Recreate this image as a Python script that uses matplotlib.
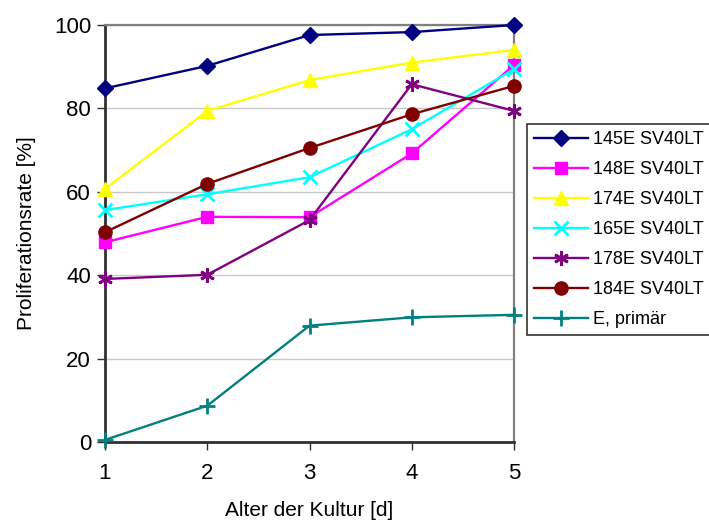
import matplotlib
matplotlib.use("Agg")
import matplotlib.pyplot as plt

plt.rcParams['font.family'] = ['Liberation Sans', 'DejaVu Sans']

days = [1, 2, 3, 4, 5]
series_names = ["145E SV40LT", "148E SV40LT", "174E SV40LT", "165E SV40LT",
                "178E SV40LT", "184E SV40LT", "E, primär"]
v145 = [84.8, 90.2, 97.6, 98.3, 100.0]
v148 = [47.9, 54.0, 53.9, 69.2, 90.4]
v174 = [60.7, 79.4, 86.8, 91.0, 94.0]
v165 = [55.6, 59.4, 63.5, 75.0, 89.4]
v178 = [39.1, 40.1, 53.2, 85.8, 79.4]
v184 = [50.3, 61.9, 70.5, 78.6, 85.4]
vprim = [0.5, 8.7, 27.9, 29.9, 30.5]
yticks = [0, 20, 40, 60, 80, 100]

series = [v145, v148, v174, v165, v178, v184, vprim]
colors = ["#000080", "#FF00FF", "#FFFF00", "#00FFFF", "#800080", "#800000", "#008080"]
markers = ["D", "s", "^", "x", (6, 2, 0), "o", "+"]
msizes = [8, 9, 9.5, 9.5, 10.5, 9.5, 11]

fig = plt.figure(figsize=(7.09, 5.2), dpi=100)
ax = fig.add_axes([105/709, (520-442)/520, (514-105)/709, (442-25)/520])

for name, vals, c, m, ms in zip(series_names, series, colors, markers, msizes):
    mew = 2 if m in ("x", "+") or isinstance(m, tuple) else 1
    ax.plot(days, vals, color=c, marker=m, markersize=ms, linewidth=1.7,
            markerfacecolor=c, markeredgecolor=c, markeredgewidth=mew,
            label=name, clip_on=False, zorder=3)

ax.set_xlim(1, 5)
ax.set_ylim(0, 100)
ax.set_xticks(days)
ax.set_yticks(yticks)
ax.yaxis.grid(True, color="#c8c8c8", linewidth=1)
ax.set_axisbelow(True)
for s in ["top", "right"]:
    ax.spines[s].set_color("#808080")
    ax.spines[s].set_linewidth(1.6)
for s in ["left", "bottom"]:
    ax.spines[s].set_color("#303030")
    ax.spines[s].set_linewidth(2)
ax.tick_params(axis="both", labelsize=16, direction="out", length=6, width=1, color="#303030")
ax.tick_params(axis="x", pad=9)
ax.tick_params(axis="y", pad=4)
ax.set_xlabel("Alter der Kultur [d]", fontsize=15, labelpad=12)
ax.set_ylabel("Proliferationsrate [%]", fontsize=15, labelpad=13)

leg = fig.legend(loc="upper left", bbox_to_anchor=(527/709, 1 - 124/520),
                 fontsize=13, frameon=True, fancybox=False, edgecolor="black",
                 borderpad=0.4, labelspacing=0.72, handlelength=3.0,
                 handletextpad=0.25, borderaxespad=0)
leg.get_frame().set_linewidth(1.2)

fig.savefig("out.png", dpi=100)
